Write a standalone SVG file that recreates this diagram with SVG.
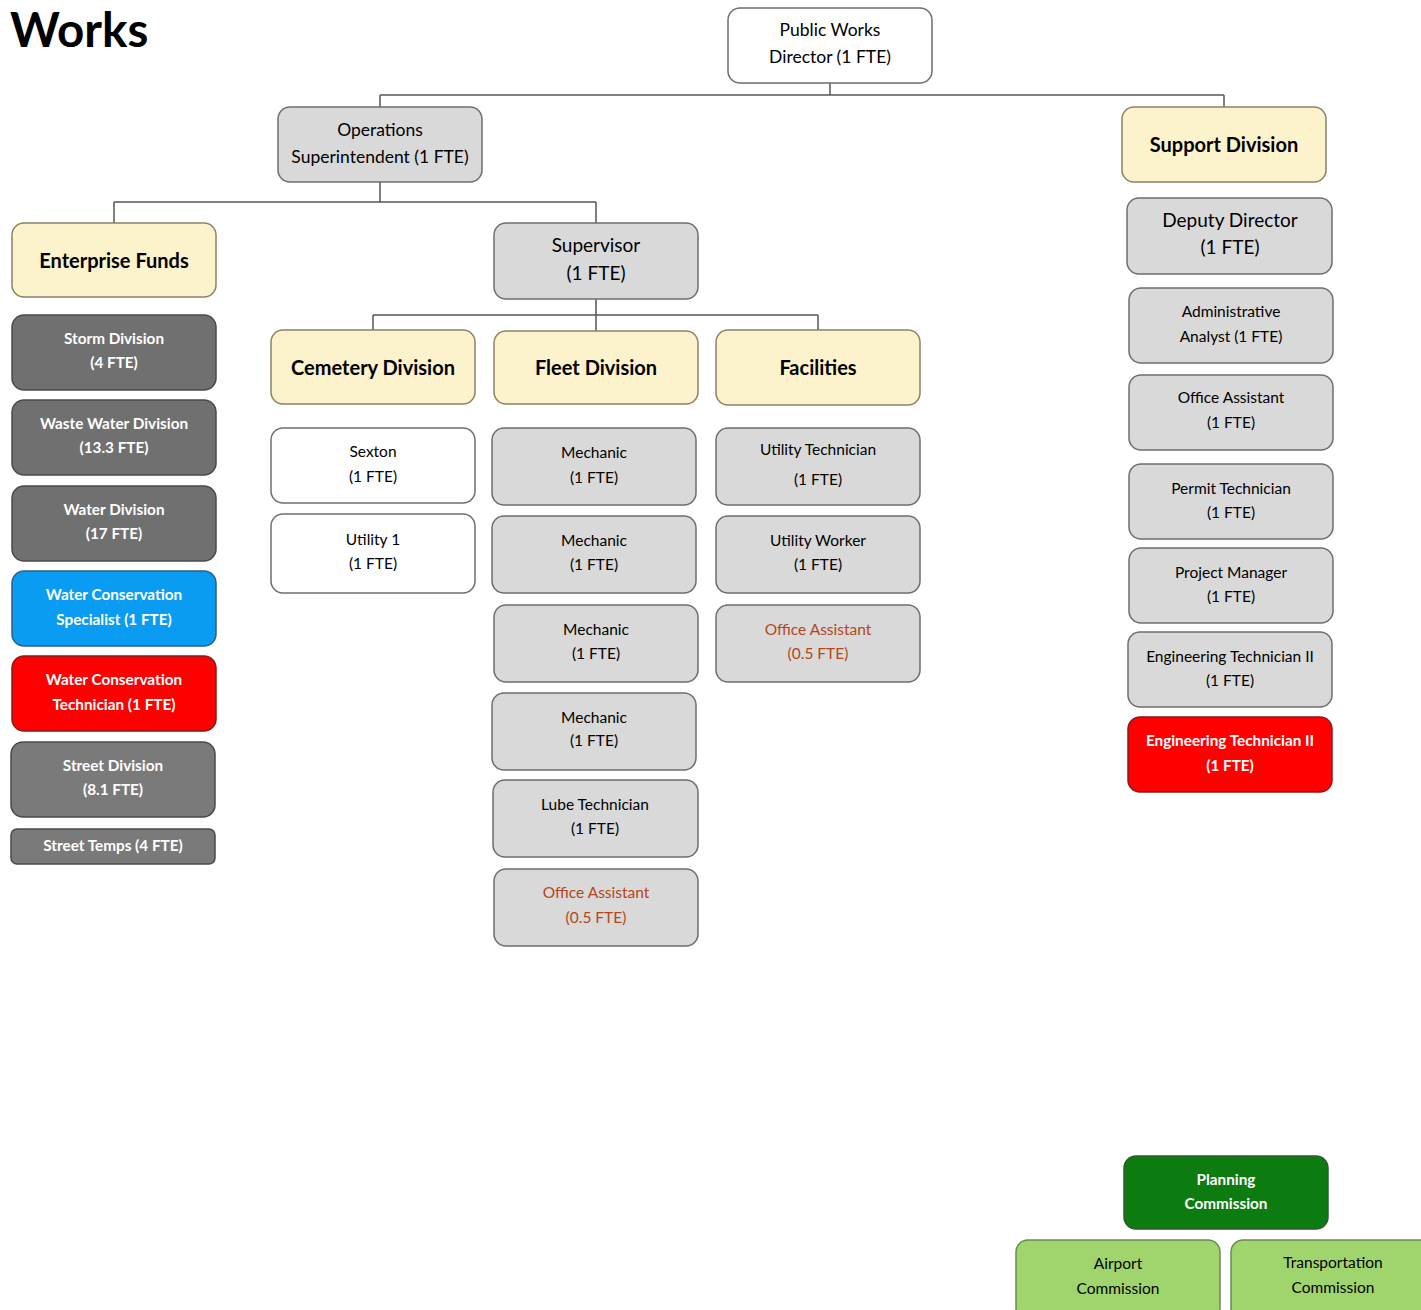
<svg xmlns="http://www.w3.org/2000/svg" width="1421" height="1310" viewBox="0 0 1421 1310">
<style>
text{font-family:Lato,"Open Sans","Liberation Sans",sans-serif;text-anchor:middle;fill:#000}
.box{stroke:#6e6e6e;stroke-width:1.5}
.w{fill:#ffffff}
.g{fill:#d9d9d9}
.y{fill:#fcf2cc;stroke:#8a836a}
.d{fill:#707070;stroke:#4a4a4a}
.d2{fill:#7a7a7a;stroke:#4a4a4a}
.b{fill:#0a9bf2;stroke:#2a5f8a}
.r{fill:#fe0000;stroke:#8a1a1a}
.dg{fill:#0c7c10;stroke:#2f5a2f}
.lg{fill:#a0d46c;stroke:#6a8a50}
.t17{font-size:17.5px}
.t19{font-size:19px}
.t15{font-size:15.5px}
.h{font-size:20px;font-weight:bold}
.wt{fill:#ffffff;font-weight:bold;font-size:15.3px}
.br{fill:#b5451b}
.conn{fill:none;stroke:#555;stroke-width:1.5}
</style>
<text x="10" y="47" style="font-size:47.5px;font-weight:bold;text-anchor:start">Works</text>
<g id="connectors">
<path class="conn" d="M830 83V95M380 95H1224M380 95V107M1224 95V107"/>
<path class="conn" d="M380 182V202M114 202H596M114 202V223M596 202V223"/>
<path class="conn" d="M596 299V315M373 315H818M373 315V330M596 315V331M818 315V330"/>
</g>
<g id="director"><rect class="box w" x="728" y="8" width="204" height="75" rx="12"/><text class="t17" x="830" y="36">Public Works</text><text class="t17" x="830" y="63">Director (1 FTE)</text></g>
<g id="ops"><rect class="box g" x="278" y="107" width="204" height="75" rx="12"/><text class="t17" x="380" y="136">Operations</text><text class="t17" x="380" y="163">Superintendent (1 FTE)</text></g>
<g id="support"><rect class="box y" x="1122" y="107" width="204" height="75" rx="12"/><text class="h" x="1224" y="152">Support Division</text></g>
<g id="enterprise"><rect class="box y" x="12" y="223" width="204" height="74" rx="12"/><text class="h" x="114" y="268">Enterprise Funds</text></g>
<g id="supervisor"><rect class="box g" x="494" y="223" width="204" height="76" rx="12"/><text class="t19" x="596" y="252">Supervisor</text><text class="t19" x="596" y="280">(1 FTE)</text></g>
<g id="cemetery"><rect class="box y" x="271" y="330" width="204" height="74" rx="12"/><text class="h" x="373" y="375">Cemetery Division</text></g>
<g id="fleet"><rect class="box y" x="494" y="331" width="204" height="73" rx="12"/><text class="h" x="596" y="375">Fleet Division</text></g>
<g id="facilities"><rect class="box y" x="716" y="330" width="204" height="75" rx="12"/><text class="h" x="818" y="375">Facilities</text></g>

<g id="storm"><rect class="box d" x="12" y="315" width="204" height="75" rx="12"/><text class="wt" x="114" y="344">Storm Division</text><text class="wt" x="114" y="368">(4 FTE)</text></g>
<g id="wastewater"><rect class="box d" x="12" y="400" width="204" height="75" rx="12"/><text class="wt" x="114" y="429">Waste Water Division</text><text class="wt" x="114" y="453">(13.3 FTE)</text></g>
<g id="water"><rect class="box d" x="12" y="486" width="204" height="75" rx="12"/><text class="wt" x="114" y="515">Water Division</text><text class="wt" x="114" y="539">(17 FTE)</text></g>
<g id="wcspec"><rect class="box b" x="12" y="571" width="204" height="75" rx="12"/><text class="wt" x="114" y="600">Water Conservation</text><text class="wt" x="114" y="625">Specialist (1 FTE)</text></g>
<g id="wctech"><rect class="box r" x="12" y="656" width="204" height="75" rx="12"/><text class="wt" x="114" y="685">Water Conservation</text><text class="wt" x="114" y="710">Technician (1 FTE)</text></g>
<g id="street"><rect class="box d2" x="11" y="742" width="204" height="75" rx="12"/><text class="wt" x="113" y="771">Street Division</text><text class="wt" x="113" y="795">(8.1 FTE)</text></g>
<g id="streettemps"><rect class="box d2" x="11" y="829" width="204" height="35" rx="6"/><text class="wt" x="113" y="851">Street Temps (4 FTE)</text></g>

<g id="sexton"><rect class="box w" x="271" y="428" width="204" height="75" rx="12"/><text class="t15" x="373" y="457">Sexton</text><text class="t15" x="373" y="482">(1 FTE)</text></g>
<g id="utility1"><rect class="box w" x="271" y="514" width="204" height="79" rx="12"/><text class="t15" x="373" y="545">Utility 1</text><text class="t15" x="373" y="569">(1 FTE)</text></g>

<g id="mech1"><rect class="box g" x="492" y="428" width="204" height="77" rx="12"/><text class="t15" x="594" y="458">Mechanic</text><text class="t15" x="594" y="483">(1 FTE)</text></g>
<g id="mech2"><rect class="box g" x="492" y="516" width="204" height="77" rx="12"/><text class="t15" x="594" y="546">Mechanic</text><text class="t15" x="594" y="570">(1 FTE)</text></g>
<g id="mech3"><rect class="box g" x="494" y="605" width="204" height="77" rx="12"/><text class="t15" x="596" y="635">Mechanic</text><text class="t15" x="596" y="659">(1 FTE)</text></g>
<g id="mech4"><rect class="box g" x="492" y="693" width="204" height="77" rx="12"/><text class="t15" x="594" y="723">Mechanic</text><text class="t15" x="594" y="746">(1 FTE)</text></g>
<g id="lube"><rect class="box g" x="493" y="780" width="205" height="77" rx="12"/><text class="t15" x="595" y="810">Lube Technician</text><text class="t15" x="595" y="834">(1 FTE)</text></g>
<g id="fleetoffice"><rect class="box g" x="494" y="869" width="204" height="77" rx="12"/><text class="t15 br" x="596" y="898">Office Assistant</text><text class="t15 br" x="596" y="923">(0.5 FTE)</text></g>

<g id="utiltech"><rect class="box g" x="716" y="428" width="204" height="77" rx="12"/><text class="t15" x="818" y="455">Utility Technician</text><text class="t15" x="818" y="485">(1 FTE)</text></g>
<g id="utilworker"><rect class="box g" x="716" y="516" width="204" height="77" rx="12"/><text class="t15" x="818" y="546">Utility Worker</text><text class="t15" x="818" y="570">(1 FTE)</text></g>
<g id="facoffice"><rect class="box g" x="716" y="605" width="204" height="77" rx="12"/><text class="t15 br" x="818" y="635">Office Assistant</text><text class="t15 br" x="818" y="659">(0.5 FTE)</text></g>

<g id="deputy"><rect class="box g" x="1127" y="198" width="205" height="76" rx="12"/><text class="t19" x="1230" y="227">Deputy Director</text><text class="t19" x="1230" y="254">(1 FTE)</text></g>
<g id="analyst"><rect class="box g" x="1129" y="288" width="204" height="75" rx="12"/><text class="t15" x="1231" y="317">Administrative</text><text class="t15" x="1231" y="342">Analyst (1 FTE)</text></g>
<g id="supoffice"><rect class="box g" x="1129" y="375" width="204" height="75" rx="12"/><text class="t15" x="1231" y="403">Office Assistant</text><text class="t15" x="1231" y="428">(1 FTE)</text></g>
<g id="permit"><rect class="box g" x="1129" y="464" width="204" height="75" rx="12"/><text class="t15" x="1231" y="494">Permit Technician</text><text class="t15" x="1231" y="518">(1 FTE)</text></g>
<g id="pm"><rect class="box g" x="1129" y="548" width="204" height="75" rx="12"/><text class="t15" x="1231" y="578">Project Manager</text><text class="t15" x="1231" y="602">(1 FTE)</text></g>
<g id="engtech"><rect class="box g" x="1128" y="632" width="204" height="75" rx="12"/><text class="t15" x="1230" y="662">Engineering Technician II</text><text class="t15" x="1230" y="686">(1 FTE)</text></g>
<g id="engtech2"><rect class="box r" x="1128" y="717" width="204" height="75" rx="12"/><text class="wt" x="1230" y="746">Engineering Technician II</text><text class="wt" x="1230" y="771">(1 FTE)</text></g>

<g id="planning"><rect class="box dg" x="1124" y="1156" width="204" height="73" rx="12"/><text class="wt" x="1226" y="1185">Planning</text><text class="wt" x="1226" y="1209">Commission</text></g>
<g id="airport"><rect class="box lg" x="1016" y="1240" width="204" height="80" rx="12"/><text class="t15" x="1118" y="1269">Airport</text><text class="t15" x="1118" y="1294">Commission</text></g>
<g id="transport"><rect class="box lg" x="1231" y="1240" width="204" height="80" rx="12"/><text class="t15" x="1333" y="1268">Transportation</text><text class="t15" x="1333" y="1293">Commission</text></g>
</svg>
